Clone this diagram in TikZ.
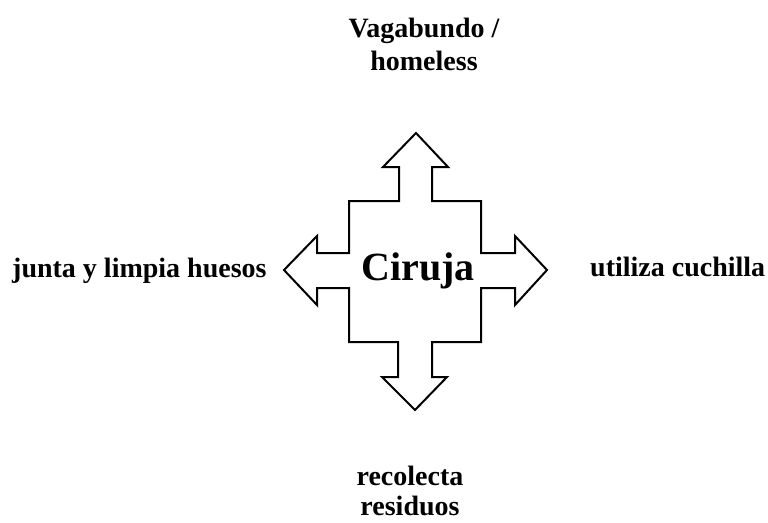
\documentclass[tikz,border=0pt]{standalone}
\usepackage{fontspec}
\setmainfont{Liberation Serif}
\usetikzlibrary{positioning}

\tikzset{
  lbl/.style={font=\bfseries\fontsize{28}{33}\selectfont, align=center, inner sep=0pt},
  hub/.style={font=\bfseries\fontsize{40}{44}\selectfont, inner sep=0pt},
  cross/.style={draw=black, line width=2pt, line join=miter, fill=white}
}

\begin{document}
\begin{tikzpicture}[x=1pt,y=-1pt]
\useasboundingbox (0,0) rectangle (768,522);

% the four-way arrow
\draw[cross] (416,133) -- (448,167) -- (432,167) -- (432,201) -- (481,201) -- (481,253)
  -- (515,253) -- (515,236) -- (547,270) -- (515,305) -- (515,288) -- (481,288)
  -- (481,342) -- (432,342) -- (432,377) -- (447,377) -- (415,410) -- (382,377)
  -- (398,377) -- (398,342) -- (349,342) -- (349,288) -- (317,288) -- (317,305)
  -- (284,270) -- (317,236) -- (317,253) -- (349,253) -- (349,201) -- (399,201)
  -- (399,167) -- (383,167) -- cycle;

\node[hub, anchor=base] (ciruja) at (418,280) {Ciruja};

\node[lbl, anchor=base] (vaga) at (424,70) {Vagabundo /\\homeless};
\node[lbl, anchor=base, font=\bfseries\fontsize{28}{30}\selectfont] (reco) at (410,515) {recolecta\\residuos};
\node[lbl, anchor=base west] (junta) at (12,277) {junta y limpia huesos};
\node[lbl, anchor=base west] (util) at (590,276) {utiliza cuchilla};
\end{tikzpicture}
\end{document}
